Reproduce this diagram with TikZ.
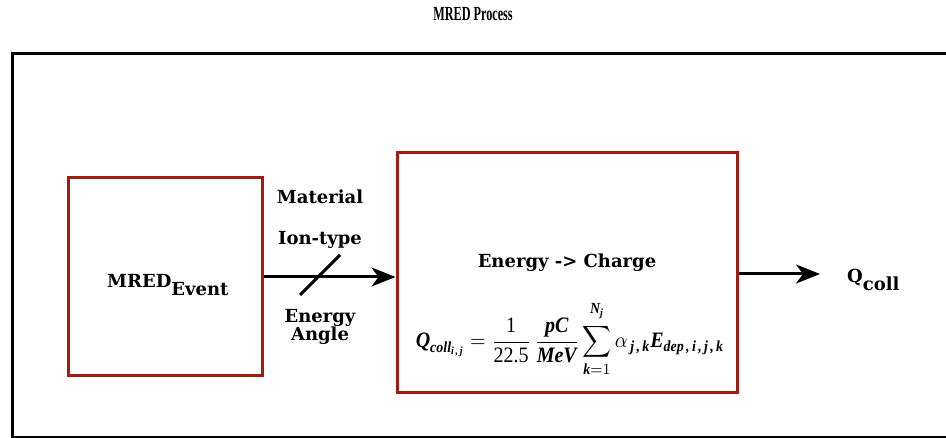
\documentclass[tikz,border=0pt]{standalone}
\usepackage{amsmath}
\usepackage{fontspec}
\setmainfont{DejaVu Serif}
\newfontfamily\eqf{Liberation Serif}
\newfontfamily\titf{Liberation Serif}
\usetikzlibrary{arrows.meta}
\definecolor{boxred}{HTML}{A21D10}
\newcommand\bitx[1]{\text{\eqf\bfseries\itshape #1}}
\newcommand\rmtx[1]{\text{\eqf #1}}
\tikzset{
  redbox/.style={draw=boxred, line width=3pt, fill=white, inner sep=0pt},
  lbl/.style={font=\fontsize{18}{21}\selectfont\bfseries, inner sep=0pt, align=center},
  flow/.style={line width=3pt, -{Stealth[length=24pt,width=19pt,inset=7pt]}},
}
\begin{document}
\begin{tikzpicture}[x=1pt,y=-1pt]
\useasboundingbox (0,0) rectangle (946,438);
\clip (0,0) rectangle (946,438);
\fill[white] (0,0) rectangle (946,438);
% title
\node[inner sep=0pt] (title) at (473,14) {\scalebox{0.61}[1]{\titf\fontsize{20}{24}\selectfont\bfseries MRED Process}};
% outer frame
\node[draw=black, line width=3pt, minimum width=960pt, minimum height=384pt, inner sep=0pt, anchor=north west] (frame) at (11,52) {};
% boxes
\node[redbox, minimum width=194pt, minimum height=198pt] (ev) at (165,277) {};
\node[redbox, minimum width=340pt, minimum height=240pt] (ec) at (567,273) {};
% box texts
\node[lbl, anchor=base west] (evt) at (107,288) {MRED\raisebox{-8pt}{Event}};
\node[lbl] (ect) at (567,263) {Energy -> Charge};
\node[inner sep=0pt] (eq) at (570,339) {\scalebox{2}[2.2]{\fontsize{10}{12}\selectfont$\displaystyle
 \bitx{Q}_{\bitx{coll}_{\bitx{i\,,\,j}}}
 = \frac{\rmtx{1}}{\rmtx{22.5}}\,\frac{\bitx{pC}}{\bitx{MeV}}
 \sum_{\bitx{k}=1}^{\raisebox{3pt}{$\scriptstyle\bitx{N}_{\bitx{j}}$}}\alpha_{\,\bitx{j\,,\,k}}\bitx{E}_{\bitx{dep\,,\,i\,,\,j\,,\,k}}$}};
% arrows
\coordinate (qout) at (820,274);
\draw[flow] (ev.east) -- (ev.east -| ec.west);
\draw[flow] (ec.east |- qout) -- (qout);
% slash
\coordinate (s1) at (300,295);
\coordinate (s2) at (340,255);
\draw[line width=3pt] (s1) -- (s2);
% labels on the input arrow
\node[lbl] (mat) at (320,197) {Material};
\node[lbl, anchor=base] (ion) at (320,245) {Ion-type};
\node[lbl] (ena) at (320,327) {Energy\\[-3pt]Angle};
% output
\node[lbl, anchor=base west] (q) at (847,283) {Q\raisebox{-8pt}{coll}};
\end{tikzpicture}
\end{document}
